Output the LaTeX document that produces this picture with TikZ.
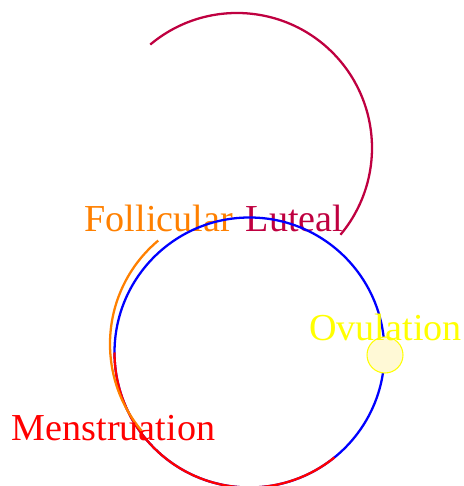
\documentclass[tikz,border=0pt]{standalone}
\usepackage{fontspec}
\setmainfont{Liberation Serif}
\usepackage{xcolor}
\usepackage{tikz}
\definecolor{CyBlue}{HTML}{0000FF}
\definecolor{CyOrange}{HTML}{FF8000}
\definecolor{CyPurple}{HTML}{BF0040}
\definecolor{CyRed}{HTML}{FF0000}
\definecolor{CyYellow}{HTML}{FFFF00}
\definecolor{CyPale}{HTML}{FFF9D6}
\tikzset{
  phase/.style={line width=1.3pt},
  phaselabel/.style={anchor=base,inner sep=0pt,font=\fontsize{21.7}{26}\selectfont}
}

\begin{document}
\begin{tikzpicture}[x=0.02cm,y=0.02cm]
\path[use as bounding box] (0,0) rectangle (463,486);
\coordinate (cycle) at (249.5,133.5);
\coordinate (early) at (245,142);
\coordinate (late) at (237,338);
% labels
\node[phaselabel,text=CyOrange] (follicular) at (158.7,254) {Follicular};
\node[phaselabel,text=CyPurple] (luteal) at (294.5,254) {Luteal};
% whole cycle
\draw[phase,CyBlue] (cycle) circle[radius=135];
\draw[phase,CyRed] ([shift={(180:135)}]cycle) arc[start angle=180,end angle=309,radius=135];
\draw[phase,CyOrange] ([shift={(130:135)}]early) arc[start angle=130,end angle=220,radius=135];
\draw[phase,CyPurple] ([shift={(130:135)}]late) arc[start angle=130,end angle=-40,radius=135];
% ovulation point
\node[circle,draw=CyYellow,fill=CyPale,line width=0.6pt,minimum size=36*0.02cm,inner sep=0pt] (egg) at (385,131) {};
\node[phaselabel,text=CyYellow] (ovulation) at (385.5,145.3) {Ovulation};
\node[phaselabel,text=CyRed] (menstruation) at (113.5,45.3) {Menstruation};
\end{tikzpicture}
\end{document}
